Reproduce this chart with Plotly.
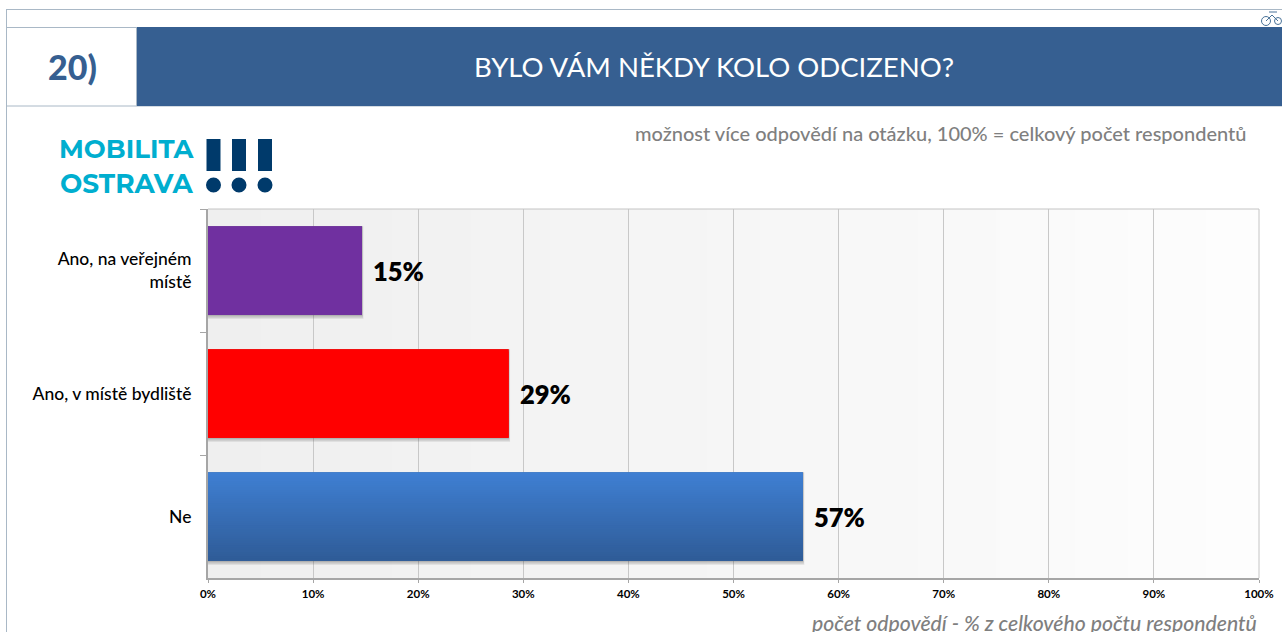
import plotly.graph_objects as go

# Data
categories = ["Ano, na veřejném<br>místě", "Ano, v místě bydliště", "Ne"]
values = [14.65, 28.6, 56.6]
tick_vals = list(range(0, 101, 10))
tick_labels = [f"{v}%" for v in tick_vals]
bar_tops = ["#7030a0", "#ff0000", "#3f7fd2"]
bar_bottoms = ["#7030a0", "#ff0000", "#2f5c98"]

W, H = 1282, 632
L, R, T, B = 208, 1259, 209, 578
FONT = "Lato"
BAR_WIDTH = 0.72


def px(x):
    return (x - L) / (R - L)


def py(y):
    return (B - y) / (B - T)


def mix(c1, c2, t):
    a = [int(c1[i:i + 2], 16) for i in (1, 3, 5)]
    b = [int(c2[i:i + 2], 16) for i in (1, 3, 5)]
    return "#" + "".join(f"{round(p + (q - p) * t):02x}" for p, q in zip(a, b))


shapes = []
annotations = []


def rect(x0, y0, x1, y1, fill, layer="above"):
    shapes.append(dict(type="rect", xref="paper", yref="paper", x0=px(x0), x1=px(x1),
                       y0=py(y0), y1=py(y1), fillcolor=fill, layer=layer, line_width=0))


def seg(x0, y0, x1, y1, color="#a9b8c6", width=1):
    shapes.append(dict(type="line", xref="paper", yref="paper", x0=px(x0), x1=px(x1),
                       y0=py(y0), y1=py(y1), line=dict(color=color, width=width)))


def circle(cx, cy, r, fill, line=None, w=1):
    shapes.append(dict(type="circle", xref="paper", yref="paper", x0=px(cx - r), x1=px(cx + r),
                       y0=py(cy - r), y1=py(cy + r), fillcolor=fill,
                       line=dict(color=line or fill, width=w if line else 0)))


def text(x, y, s, size, color, anchor="left", family=FONT, weight="normal", style="normal"):
    annotations.append(dict(xref="paper", yref="paper", x=px(x), y=py(y), text=s, showarrow=False,
                            xanchor=anchor, yanchor="middle",
                            font=dict(size=size, color=color, family=family, weight=weight, style=style)))


# Page frame and header
seg(6, 9.5, W, 9.5)
seg(6, 27.5, W, 27.5)
seg(6, 106, W, 106)
seg(6.5, 9, 6.5, H)
rect(137, 27, W, 106, "#365f91")
seg(136.5, 27, 136.5, 106)
text(72, 67, "20)", 34, "#365f91", "center", weight=900)
text(713.5, 66.5, "BYLO VÁM NĚKDY KOLO ODCIZENO?", 27.5, "#ffffff", "center")
text(1248, 133.5, "možnost více odpovědí na otázku, 100% = celkový počet respondentů", 20, "#7f7f7f", "right", weight=500)
text(1259, 623, "počet odpovědí - % z celkového počtu respondentů", 21.2, "#7f7f7f", "right", weight=500, style="italic")

# Logo
text(57, 149, "MOBILITA", 26, "#00aecf", "left", "Montserrat, Lato", weight=700)
text(58, 183, "OSTRAVA", 26.4, "#00aecf", "left", "Montserrat, Lato", weight=700)
for cx in (213.5, 239, 265):
    rect(cx - 7, 139, cx + 7, 171, "#003a6b")
    circle(cx, 185, 7.5, "#003a6b")

# Bicycle icon (second wheel runs off the page in the reference)
BIKE = "#4a7399"
circle(1266, 21, 4.5, "rgba(0,0,0,0)", BIKE, 1)
circle(1278, 21, 3.5, "rgba(0,0,0,0)", BIKE, 1)
seg(1266, 21, 1272, 15, BIKE)
seg(1272, 15, 1278, 21, BIKE)
seg(1269, 12, 1277, 12, BIKE)

# Plot-area background fading from grey to white
N = 40
for i in range(N):
    rect(L + (R - L) * i / N, T, min(R, L + (R - L) * (i + 1) / N + 1), B,
         mix("#efefef", "#fdfdfd", i / (N - 1)), layer="below")

# Soft shadows and vertical gradients, positioned on the data axes
STEPS = 40
for i, v in enumerate(values):
    for off, alpha in ((0.035, 0.10), (0.025, 0.14), (0.012, 0.20)):
        shapes.append(dict(type="rect", xref="x", yref="y", x0=0, x1=v + off * 4,
                           y0=i - BAR_WIDTH / 2, y1=i + BAR_WIDTH / 2 + off,
                           fillcolor=f"rgba(80,80,80,{alpha})", line_width=0, layer="above"))
    for s in range(STEPS):
        y_top = i - BAR_WIDTH / 2 + BAR_WIDTH * s / STEPS
        y_bot = i - BAR_WIDTH / 2 + BAR_WIDTH * (s + 1) / STEPS
        if s < STEPS - 1:
            y_bot += BAR_WIDTH / STEPS
        shapes.append(dict(type="rect", xref="x", yref="y", x0=0, x1=v, y0=y_top, y1=y_bot,
                           fillcolor=mix(bar_tops[i], bar_bottoms[i], s / (STEPS - 1)), line_width=0, layer="above"))
    annotations.append(dict(x=v, y=categories[i], xref="x", yref="y", text=f"{round(v)}%", showarrow=False,
                            xanchor="left", yanchor="middle", xshift=9,
                            font=dict(size=25.5, color="#000000", family=FONT, weight=800)))

fig = go.Figure(go.Bar(
    y=categories,
    x=values,
    orientation="h",
    width=BAR_WIDTH,
    marker=dict(color=bar_tops, line_width=0),
    hoverinfo="skip",
))

# Thin top/right borders of the plot area
seg(L, T, R, T, "#c4c4c4")
seg(R, T, R, B, "#c4c4c4")

fig.update_layout(
    width=W,
    height=H,
    margin=dict(l=L, r=W - R, t=T, b=H - B, pad=0, autoexpand=False),
    paper_bgcolor="#ffffff",
    plot_bgcolor="rgba(0,0,0,0)",
    showlegend=False,
    shapes=shapes,
    annotations=annotations,
    xaxis=dict(
        automargin=False,
        range=[0, 100], tickvals=tick_vals, ticktext=tick_labels,
        tickfont=dict(size=11.5, color="#000000", family=FONT, weight=700),
        showgrid=True, gridcolor="#c8c8c8", gridwidth=1, zeroline=False,
        showline=True, linecolor="#a6a6a6", linewidth=2, ticks="outside", ticklen=3, tickcolor="#a6a6a6",
        ticklabelstandoff=1, fixedrange=True,
    ),
    yaxis=dict(
        automargin=False,
        autorange="reversed", tickson="boundaries", ticks="outside", ticklen=6, tickcolor="#a6a6a6", tickwidth=1,
        tickfont=dict(size=17.5, color="#000000", family=FONT, weight=500),
        showline=True, linecolor="#a6a6a6", linewidth=2, showgrid=False, zeroline=False, ticklabelstandoff=11,
        fixedrange=True,
    ),
)

fig.write_html("out.html", config=dict(displayModeBar=False), post_script="document.body.style.margin='0';")
